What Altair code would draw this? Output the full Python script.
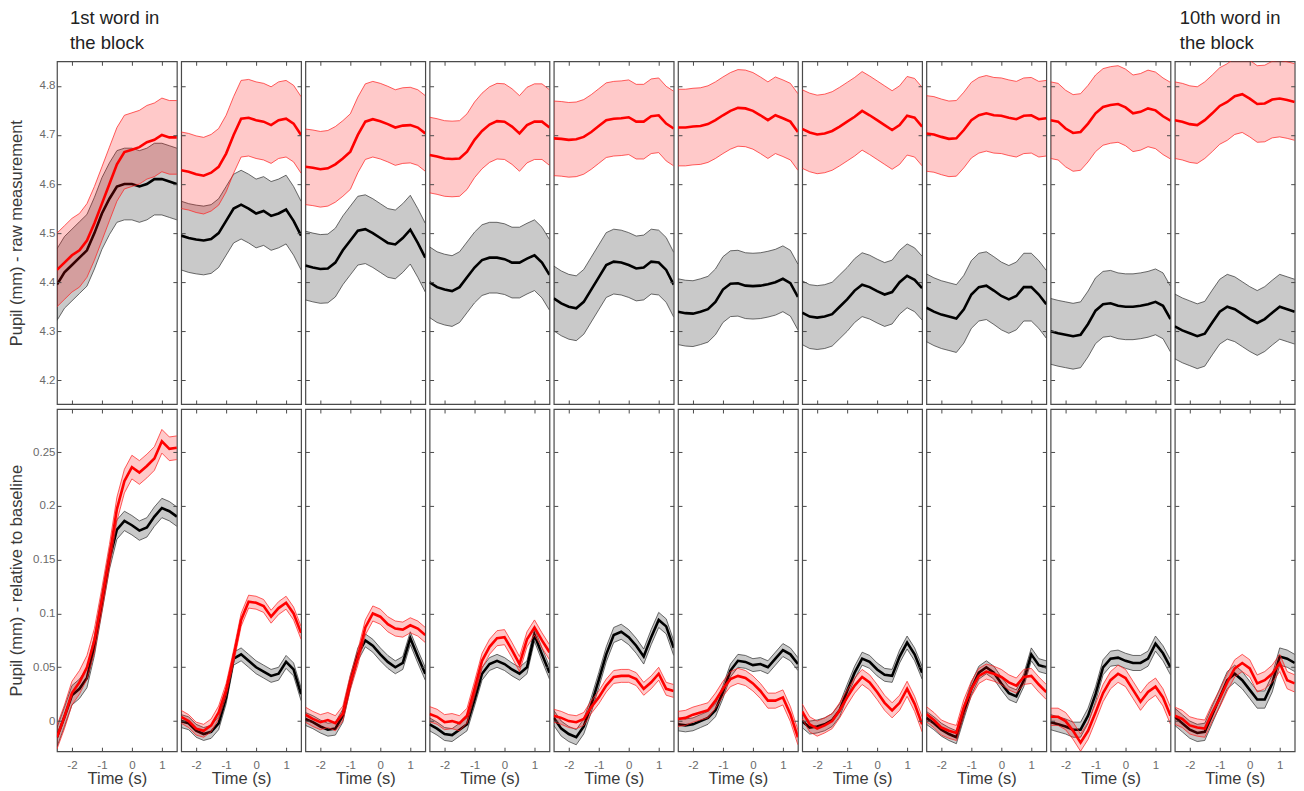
import altair as alt
import pandas as pd

# ---------------- data ----------------
TIME = [-2.5, -2.25, -2.0, -1.75, -1.5, -1.25, -1.0, -0.75, -0.5, -0.25,
        0.0, 0.25, 0.5, 0.75, 1.0, 1.25, 1.5]

# top row: raw pupil size (mm), red condition, one list per word position
RAW_RED = [
    [4.425, 4.44, 4.455, 4.465, 4.485, 4.52, 4.56, 4.60, 4.64, 4.665, 4.67, 4.675, 4.685, 4.69, 4.70, 4.695, 4.695],
    [4.628, 4.625, 4.62, 4.617, 4.623, 4.635, 4.662, 4.70, 4.733, 4.735, 4.73, 4.727, 4.72, 4.73, 4.733, 4.723, 4.70],
    [4.635, 4.633, 4.63, 4.632, 4.64, 4.652, 4.666, 4.70, 4.727, 4.732, 4.728, 4.722, 4.715, 4.719, 4.72, 4.715, 4.703],
    [4.659, 4.656, 4.652, 4.651, 4.652, 4.666, 4.69, 4.708, 4.721, 4.728, 4.727, 4.717, 4.703, 4.72, 4.727, 4.727, 4.715],
    [4.693, 4.692, 4.69, 4.691, 4.696, 4.706, 4.718, 4.73, 4.733, 4.734, 4.736, 4.727, 4.727, 4.738, 4.74, 4.723, 4.713],
    [4.715, 4.715, 4.717, 4.718, 4.722, 4.73, 4.74, 4.749, 4.755, 4.754, 4.749, 4.74, 4.73, 4.74, 4.734, 4.727, 4.706],
    [4.712, 4.705, 4.701, 4.703, 4.708, 4.717, 4.727, 4.737, 4.749, 4.74, 4.73, 4.72, 4.71, 4.72, 4.739, 4.735, 4.717],
    [4.703, 4.701, 4.696, 4.692, 4.693, 4.71, 4.73, 4.74, 4.744, 4.74, 4.739, 4.735, 4.732, 4.739, 4.74, 4.732, 4.734],
    [4.73, 4.727, 4.713, 4.704, 4.706, 4.723, 4.744, 4.757, 4.761, 4.763, 4.756, 4.744, 4.747, 4.754, 4.75, 4.738, 4.729],
    [4.73, 4.727, 4.722, 4.72, 4.73, 4.744, 4.759, 4.767, 4.779, 4.783, 4.774, 4.763, 4.764, 4.772, 4.774, 4.771, 4.767],
]
RAW_RED_SE = [0.075, 0.078, 0.077, 0.077, 0.076, 0.078, 0.08, 0.077, 0.078, 0.078]

# top row: raw pupil size (mm), black condition
RAW_BLACK = [
    [4.395, 4.42, 4.435, 4.45, 4.465, 4.50, 4.54, 4.57, 4.595, 4.60, 4.60, 4.595, 4.60, 4.61, 4.61, 4.605, 4.60],
    [4.495, 4.49, 4.487, 4.485, 4.488, 4.50, 4.525, 4.55, 4.558, 4.55, 4.54, 4.545, 4.535, 4.54, 4.548, 4.525, 4.495],
    [4.434, 4.43, 4.427, 4.428, 4.44, 4.465, 4.485, 4.505, 4.508, 4.50, 4.49, 4.48, 4.477, 4.49, 4.507, 4.48, 4.45],
    [4.40, 4.39, 4.385, 4.382, 4.39, 4.41, 4.43, 4.445, 4.45, 4.45, 4.447, 4.44, 4.44, 4.448, 4.455, 4.44, 4.415],
    [4.367, 4.357, 4.35, 4.347, 4.36, 4.385, 4.41, 4.435, 4.442, 4.44, 4.435, 4.428, 4.43, 4.442, 4.44, 4.425, 4.395],
    [4.34, 4.337, 4.336, 4.34, 4.345, 4.36, 4.385, 4.397, 4.398, 4.393, 4.392, 4.393, 4.396, 4.40, 4.407, 4.398, 4.37],
    [4.338, 4.33, 4.328, 4.33, 4.335, 4.35, 4.365, 4.383, 4.395, 4.39, 4.382, 4.375, 4.38, 4.40, 4.413, 4.405, 4.388],
    [4.348, 4.34, 4.334, 4.33, 4.326, 4.345, 4.375, 4.39, 4.393, 4.383, 4.372, 4.365, 4.372, 4.39, 4.39, 4.375, 4.355],
    [4.30, 4.296, 4.293, 4.29, 4.293, 4.315, 4.342, 4.355, 4.357, 4.352, 4.35, 4.35, 4.352, 4.355, 4.36, 4.352, 4.325],
    [4.31, 4.302, 4.296, 4.29, 4.295, 4.318, 4.34, 4.35, 4.345, 4.335, 4.325, 4.317, 4.325, 4.338, 4.35, 4.345, 4.34],
]
RAW_BLACK_SE = [0.073, 0.07, 0.07, 0.072, 0.066, 0.067, 0.065, 0.069, 0.067, 0.066]

# bottom row: relative to baseline (mm), red condition
REL_RED = [
    [-0.015, 0.004, 0.026, 0.036, 0.05, 0.075, 0.113, 0.153, 0.197, 0.223, 0.236, 0.231, 0.237, 0.244, 0.26, 0.253, 0.254],
    [0.004, 0.0, -0.007, -0.009, -0.004, 0.008, 0.029, 0.06, 0.094, 0.111, 0.11, 0.107, 0.097, 0.105, 0.11, 0.10, 0.082],
    [0.006, 0.002, -0.001, 0.001, -0.002, 0.007, 0.036, 0.059, 0.087, 0.10, 0.097, 0.09, 0.086, 0.085, 0.089, 0.086, 0.08],
    [0.0065, 0.004, -0.001, 0.0, -0.002, 0.005, 0.03, 0.056, 0.069, 0.077, 0.078, 0.066, 0.053, 0.076, 0.087, 0.075, 0.064],
    [0.005, 0.003, 0.0, -0.001, 0.002, 0.013, 0.022, 0.033, 0.041, 0.042, 0.042, 0.039, 0.03, 0.036, 0.044, 0.03, 0.028],
    [0.002, 0.003, 0.006, 0.008, 0.01, 0.019, 0.03, 0.039, 0.042, 0.04, 0.035, 0.028, 0.019, 0.019, 0.022, 0.0065, -0.015],
    [0.009, -0.003, -0.007, -0.004, 0.0, 0.01, 0.022, 0.033, 0.041, 0.036, 0.027, 0.017, 0.01, 0.017, 0.03, 0.016, -0.003],
    [0.0065, 0.001, -0.006, -0.009, -0.011, 0.013, 0.03, 0.042, 0.046, 0.044, 0.041, 0.036, 0.033, 0.041, 0.042, 0.034, 0.027],
    [0.004, 0.004, 0.0, -0.009, -0.02, -0.009, 0.008, 0.026, 0.038, 0.044, 0.04, 0.029, 0.018, 0.027, 0.032, 0.022, 0.005],
    [0.005, 0.002, -0.004, -0.006, -0.007, 0.008, 0.021, 0.036, 0.049, 0.054, 0.049, 0.035, 0.038, 0.044, 0.054, 0.038, 0.035],
]
REL_RED_SE = [0.011, 0.006, 0.007, 0.007, 0.006, 0.007, 0.007, 0.007, 0.008, 0.008]

# bottom row: relative to baseline (mm), black condition
REL_BLACK = [
    [-0.015, 0.004, 0.024, 0.03, 0.04, 0.07, 0.11, 0.15, 0.178, 0.186, 0.182, 0.177, 0.18, 0.19, 0.198, 0.195, 0.19],
    [0.0, -0.002, -0.009, -0.012, -0.01, -0.002, 0.022, 0.058, 0.062, 0.056, 0.05, 0.046, 0.042, 0.044, 0.055, 0.048, 0.025],
    [0.002, -0.001, -0.005, -0.008, -0.007, 0.005, 0.036, 0.062, 0.075, 0.07, 0.062, 0.055, 0.05, 0.054, 0.077, 0.06, 0.044],
    [-0.003, -0.007, -0.012, -0.013, -0.008, -0.003, 0.02, 0.044, 0.053, 0.056, 0.053, 0.048, 0.044, 0.05, 0.08, 0.062, 0.045],
    [0.003, -0.007, -0.012, -0.015, -0.005, 0.015, 0.038, 0.062, 0.08, 0.083, 0.078, 0.07, 0.06, 0.078, 0.094, 0.088, 0.068],
    [-0.003, -0.004, -0.003, 0.0, 0.003, 0.01, 0.027, 0.047, 0.056, 0.055, 0.052, 0.053, 0.05, 0.058, 0.066, 0.062, 0.053],
    [0.0, -0.006, -0.005, -0.003, 0.001, 0.01, 0.028, 0.045, 0.058, 0.055, 0.048, 0.043, 0.042, 0.06, 0.073, 0.062, 0.045],
    [0.003, -0.002, -0.008, -0.012, -0.015, 0.008, 0.03, 0.045, 0.05, 0.045, 0.035, 0.026, 0.023, 0.038, 0.062, 0.052, 0.05],
    [-0.001, -0.003, -0.005, -0.008, -0.008, 0.005, 0.025, 0.05, 0.058, 0.059, 0.056, 0.054, 0.054, 0.058, 0.072, 0.063, 0.05],
    [0.004, -0.002, -0.008, -0.011, -0.01, 0.006, 0.022, 0.038, 0.044, 0.038, 0.029, 0.02, 0.02, 0.035, 0.06, 0.058, 0.054],
]
REL_BLACK_SE = [0.009, 0.006, 0.006, 0.006, 0.007, 0.006, 0.006, 0.006, 0.007, 0.008]

X_DOMAIN = [-2.5, 1.5]
RAW_DOMAIN = [4.152, 4.85]
REL_DOMAIN = [-0.028, 0.29]
X_TICKS = [-2, -1, 0, 1]
RAW_TICKS = [4.2, 4.3, 4.4, 4.5, 4.6, 4.7, 4.8]
REL_TICKS = [0, 0.05, 0.1, 0.15, 0.2, 0.25]
RAW_TITLE = "Pupil (mm) - raw measurement"
REL_TITLE = "Pupil (mm) - relative to baseline"
X_TITLE = "Time (s)"
FIRST_TITLE = ["1st word in", "the block"]
LAST_TITLE = ["10th word in", "the block"]

# ---------------- styling ----------------
FONT = "Liberation Sans"
TICK = 4
W = 120
H_TOP = 343
H_BOT = 342.5
FRAME = "#4a4a4a"


def curve_df(means, se):
    return pd.DataFrame({
        "t": TIME,
        "m": means,
        "lo": [v - se for v in means],
        "hi": [v + se for v in means],
    })


def panel(i, row):
    if row == 0:
        red = curve_df(RAW_RED[i], RAW_RED_SE[i])
        black = curve_df(RAW_BLACK[i], RAW_BLACK_SE[i])
        dom, yticks, ytitle, height = RAW_DOMAIN, RAW_TICKS, RAW_TITLE, H_TOP
    else:
        red = curve_df(REL_RED[i], REL_RED_SE[i])
        black = curve_df(REL_BLACK[i], REL_BLACK_SE[i])
        dom, yticks, ytitle, height = REL_DOMAIN, REL_TICKS, REL_TITLE, H_BOT

    xs = alt.Scale(domain=X_DOMAIN, nice=False, zero=False)
    ys = alt.Scale(domain=dom, nice=False, zero=False)
    first = i == 0
    bottom = row == 1

    y_left_kw = dict(orient="left", offset=-TICK, tickSize=TICK, domain=False, grid=False,
                     values=yticks, zindex=1, labels=first)
    if first:
        y_left = alt.Axis(title=ytitle, labelExpr="'' + datum.value", labelPadding=2,
                          titlePadding=7, minExtent=29, maxExtent=29, **y_left_kw)
    else:
        y_left = alt.Axis(title=None, **y_left_kw)
    y_right = alt.Axis(orient="right", offset=-TICK, tickSize=TICK, domain=False, grid=False,
                       values=yticks, labels=False, title=None, zindex=1)
    x_bot_kw = dict(orient="bottom", offset=-TICK, tickSize=TICK, domain=False, grid=False,
                    values=X_TICKS, zindex=1, labels=bottom)
    if bottom:
        x_bottom = alt.Axis(title=X_TITLE, labelExpr="'' + datum.value", labelPadding=8,
                            titlePadding=0, **x_bot_kw)
    else:
        x_bottom = alt.Axis(title=None, **x_bot_kw)
    x_top = alt.Axis(orient="top", offset=-TICK, tickSize=TICK, domain=False, grid=False,
                     values=X_TICKS, labels=False, title=None, zindex=1)

    def area(df, color, xaxis, yaxis):
        return alt.Chart(df).mark_area(color=color, opacity=0.21, clip=True).encode(
            x=alt.X("t:Q", scale=xs, axis=xaxis),
            y=alt.Y("lo:Q", scale=ys, axis=yaxis),
            y2="hi:Q",
        )

    def line(df, field, color, width, opacity=1.0):
        return alt.Chart(df).mark_line(color=color, strokeWidth=width, opacity=opacity,
                                       clip=True).encode(
            x=alt.X("t:Q", scale=xs, axis=None),
            y=alt.Y(f"{field}:Q", scale=ys, axis=None),
        )

    layers = [
        area(black, "#000000", x_bottom, y_left),
        line(black, "lo", "#333333", 0.9, 0.8),
        line(black, "hi", "#333333", 0.9, 0.8),
        line(black, "m", "#000000", 2.6),
        area(red, "#ff0000", x_top, y_right),
        line(red, "lo", "#ff2020", 0.9, 0.8),
        line(red, "hi", "#ff2020", 0.9, 0.8),
        line(red, "m", "#ff0000", 2.6),
    ]
    ch = alt.layer(*layers).resolve_axis(x="independent", y="independent")
    props = dict(width=W, height=height)
    if row == 0 and i == 0:
        props["title"] = alt.TitleParams(text=FIRST_TITLE, anchor="start", frame="group", dx=13,
                                         offset=8, fontSize=18.5, lineHeight=25, font=FONT,
                                         fontWeight="normal", color="#222222")
    if row == 0 and i == 9:
        props["title"] = alt.TitleParams(text=LAST_TITLE, anchor="start", frame="group", dx=5,
                                         offset=8, fontSize=18.5, lineHeight=25, font=FONT,
                                         fontWeight="normal", color="#222222")
    return ch.properties(**props)


panels = [panel(i, r) for r in range(2) for i in range(10)]

chart = alt.concat(
    *panels, columns=10, spacing={"row": 5, "column": 4.3}, bounds="flush", align="all"
).properties(
    padding={"left": 0, "top": 0, "right": 0, "bottom": 0}
).configure_view(
    stroke=FRAME, strokeWidth=1.2
).configure_axis(
    labelFont=FONT, titleFont=FONT, labelFontSize=11.5, titleFontSize=16.5,
    labelColor="#6a6a6a", titleColor="#3a3a3a", tickColor=FRAME, tickWidth=1,
    titleFontWeight="normal",
)

chart.save("out.html", embed_options={"renderer": "svg", "actions": False})
